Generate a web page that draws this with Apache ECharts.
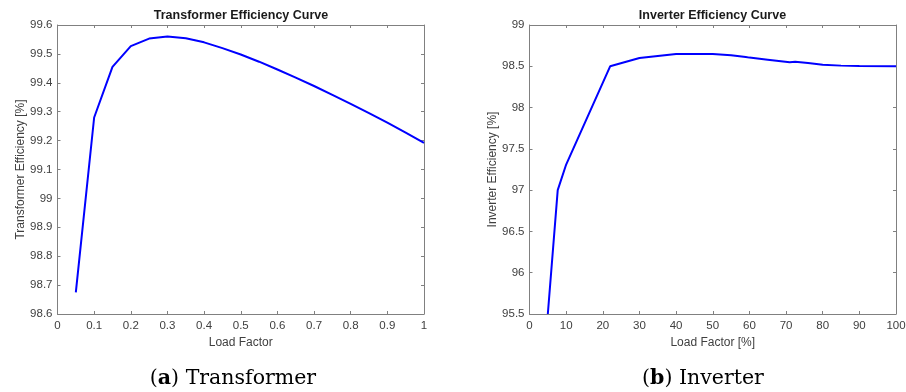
<!DOCTYPE html>
<html><head><meta charset="utf-8">
<script src="https://cdn.jsdelivr.net/npm/echarts@6/dist/echarts.min.js"></script>
<style>html,body{margin:0;padding:0;background:#fff}#c{width:906px;height:392px}</style>
</head><body><div id="c"></div>
<script>
// Transformer efficiency data
const loadFactorT = [0.05,0.1,0.15,0.2,0.25,0.3,0.35,0.4,0.45,0.5,0.55,0.6,0.65,0.7,0.75,0.8,0.85,0.9,0.95,1.0];
const effT = [98.675,99.28,99.455,99.527,99.553,99.56,99.554,99.54,99.52,99.498,99.473,99.446,99.418,99.389,99.358,99.327,99.295,99.262,99.228,99.192];
// Inverter efficiency data
const loadFactorI = [5,7.7,10,22,30,40,50,55,59,60,65,71,72.5,76,80,85,90,100];
const effI = [95.5,97.0,97.31,98.5,98.6,98.65,98.65,98.635,98.612,98.605,98.58,98.55,98.555,98.54,98.52,98.508,98.503,98.5];
const tickColor = '#808080';
const textColor = '#404040';
const font = 'Liberation Sans';

function xAx(gi, min, max, interval, name, pos) {
  const top = pos === 'top';
  return {
    type: 'value', gridIndex: gi, min: min, max: max, interval: interval, position: pos,
    name: top ? '' : name, nameLocation: 'middle', nameGap: 22,
    nameTextStyle: {color: textColor, fontFamily: font, fontSize: 12},
    axisLine: {show: true, onZero: false, lineStyle: {color: tickColor, width: 1}},
    axisTick: {show: true, inside: true, length: 3, lineStyle: {color: tickColor}},
    axisLabel: {show: !top, color: textColor, fontFamily: font, fontSize: 11.5, margin: 6},
    splitLine: {show: false}
  };
}
function yAx(gi, min, max, interval, name, pos, gap) {
  const right = pos === 'right';
  return {
    type: 'value', gridIndex: gi, min: min, max: max, interval: interval, position: pos,
    name: right ? '' : name, nameLocation: 'middle', nameGap: gap, nameRotate: 90,
    nameTextStyle: {color: textColor, fontFamily: font, fontSize: 12},
    axisLine: {show: true, onZero: false, lineStyle: {color: tickColor, width: 1}},
    axisTick: {show: true, inside: true, length: 3, lineStyle: {color: tickColor}},
    axisLabel: {show: !right, color: textColor, fontFamily: font, fontSize: 11.5, margin: 5},
    splitLine: {show: false}
  };
}
const capStyle = {fontFamily: 'DejaVu Serif', fontSize: 20.5, fontWeight: 'normal', color: '#000',
  rich: {b: {fontFamily: 'DejaVu Serif', fontSize: 20.5, fontWeight: 'bold', color: '#000'}}};
const titleStyle = {fontFamily: font, fontSize: 12.5, fontWeight: 'bold', color: '#1a1a1a'};
const chart = echarts.init(document.getElementById('c'), null, {renderer: 'canvas'});
chart.setOption({
  animation: false,
  backgroundColor: '#fff',
  title: [
    {text: 'Transformer Efficiency Curve', left: 241, top: 9, padding: 0, textAlign: 'center', textStyle: titleStyle},
    {text: 'Inverter Efficiency Curve', left: 712.5, top: 9, padding: 0, textAlign: 'center', textStyle: titleStyle},
    {text: '({b|a}) Transformer', left: 233, top: 368, padding: 0, textAlign: 'center', textStyle: capStyle},
    {text: '({b|b}) Inverter', left: 703, top: 368, padding: 0, textAlign: 'center', textStyle: capStyle}
  ],
  grid: [
    {left: 57.5, right: 482, top: 25, bottom: 78, containLabel: false, outerBoundsMode: 'none'},
    {left: 529.5, right: 10, top: 25, bottom: 78, containLabel: false, outerBoundsMode: 'none'}
  ],
  xAxis: [
    xAx(0, 0, 1, 0.1, 'Load Factor', 'bottom'),
    xAx(0, 0, 1, 0.1, '', 'top'),
    xAx(1, 0, 100, 10, 'Load Factor [%]', 'bottom'),
    xAx(1, 0, 100, 10, '', 'top')
  ],
  yAxis: [
    yAx(0, 98.6, 99.6, 0.1, 'Transformer Efficiency [%]', 'left', 30.5),
    yAx(0, 98.6, 99.6, 0.1, '', 'right', 0),
    yAx(1, 95.5, 99, 0.5, 'Inverter Efficiency [%]', 'left', 31),
    yAx(1, 95.5, 99, 0.5, '', 'right', 0)
  ],
  series: [
    {type: 'line', xAxisIndex: 0, yAxisIndex: 0, showSymbol: false, symbol: 'none',
     lineStyle: {color: '#0000ff', width: 2}, data: loadFactorT.map((x, i) => [x, effT[i]])},
    {type: 'line', xAxisIndex: 2, yAxisIndex: 2, showSymbol: false, symbol: 'none',
     lineStyle: {color: '#0000ff', width: 2}, data: loadFactorI.map((x, i) => [x, effI[i]])}
  ]
});
</script></body></html>
